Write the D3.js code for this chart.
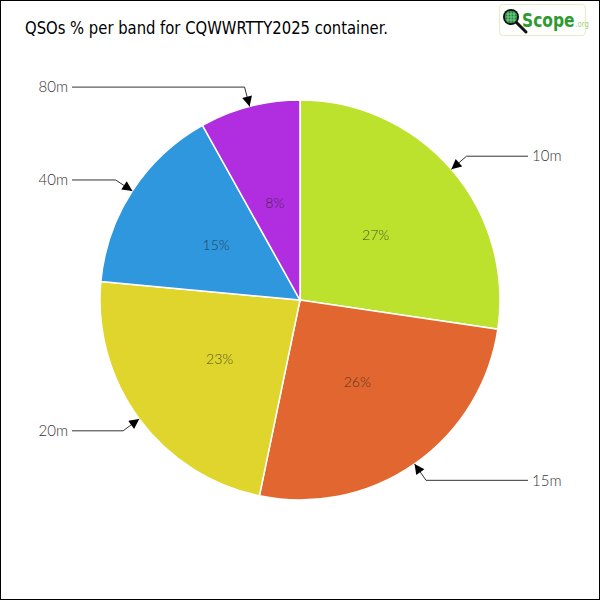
<!DOCTYPE html>
<html>
<head>
<meta charset="utf-8">
<script src="https://cdn.jsdelivr.net/npm/d3@7"></script>
<style>
  html, body { margin: 0; padding: 0; background: #fff; }
  svg { display: block; }
</style>
</head>
<body>
<svg id="chart" width="600" height="600"></svg>
<script>
// ---- data ----
const bands = ["10m", "15m", "20m", "40m", "80m"];
const shares = [27.3, 25.9, 23.2, 15.4, 8.1];
const colors = ["#bde22d", "#e2662f", "#e0d52c", "#2e97de", "#b02ee0"];
const titleText = "QSOs % per band for CQWWRTTY2025 container.";

const W = 600, H = 600;
const cx = 300, cy = 300, R = 200;
const svg = d3.select("#chart");

// frame
svg.append("rect").attr("x", 0.5).attr("y", 0.5).attr("width", W - 1).attr("height", H - 1)
  .attr("fill", "#fff").attr("stroke", "#000").attr("stroke-width", 1);

// title
svg.append("text").attr("x", 25).attr("y", 34)
  .attr("font-family", "'DejaVu Sans Condensed', 'DejaVu Sans', sans-serif")
  .attr("font-size", 17).attr("fill", "#000")
  .attr("textLength", 363).attr("lengthAdjust", "spacingAndGlyphs")
  .text(titleText);

// logo
const logo = svg.append("g");
logo.append("rect").attr("x", 499.5).attr("y", 4.5).attr("width", 86).attr("height", 31).attr("rx", 4)
  .attr("fill", "#fff").attr("stroke", "#e4efc4").attr("stroke-width", 1.2);
logo.append("line").attr("x1", 516).attr("y1", 22).attr("x2", 526).attr("y2", 32)
  .attr("stroke", "#111").attr("stroke-width", 3).attr("stroke-linecap", "round");
logo.append("circle").attr("cx", 511).attr("cy", 17).attr("r", 8).attr("fill", "#111");
logo.append("circle").attr("cx", 511).attr("cy", 17).attr("r", 6.2).attr("fill", "#1f8a3a");
[-3, 0, 3].forEach(d => {
  logo.append("line").attr("x1", 511 + d).attr("y1", 11.5).attr("x2", 511 + d).attr("y2", 22.5)
    .attr("stroke", "#8fd49a").attr("stroke-width", 0.8);
  logo.append("line").attr("x1", 505.5).attr("y1", 17 + d).attr("x2", 516.5).attr("y2", 17 + d)
    .attr("stroke", "#8fd49a").attr("stroke-width", 0.8);
});
const logoText = logo.append("text").attr("transform", "translate(522,27) scale(0.86,1)")
  .attr("font-family", "'Liberation Sans Narrow', 'DejaVu Sans Condensed', sans-serif")
  .attr("font-weight", "bold");
logoText.append("tspan").attr("font-size", 20).attr("fill", "#2f9a2f").text("Scope");
logoText.append("tspan").attr("font-size", 9).attr("font-weight", "normal")
  .attr("fill", "#9fd27a").attr("dx", 1).text(".org");

// pie
const pie = d3.pie().sort(null).value(d => d)(shares);
const arc = d3.arc().innerRadius(0).outerRadius(R);
const g = svg.append("g").attr("transform", `translate(${cx},${cy})`);

g.selectAll("path.slice").data(pie).enter().append("path")
  .attr("class", "slice")
  .attr("d", arc)
  .attr("fill", (d, i) => colors[i])
  .attr("stroke", "#fff").attr("stroke-width", 1.5);

// percent labels (at half radius)
g.selectAll("text.pct").data(pie).enter().append("text")
  .attr("class", "pct")
  .attr("transform", d => `translate(${arc.centroid(d)})`)
  .attr("text-anchor", "middle").attr("dy", "0.35em")
  .attr("font-family", "Lato, 'Open Sans', sans-serif").attr("font-weight", 300)
  .attr("font-size", 14).attr("fill", "#222").attr("fill-opacity", 0.75)
  .text((d, i) => Math.round(shares[i]) + "%");

// callouts
const defs = svg.append("defs");
defs.append("marker").attr("id", "arrow").attr("viewBox", "0 0 10 10")
  .attr("refX", 10).attr("refY", 5).attr("markerWidth", 11).attr("markerHeight", 10)
  .attr("markerUnits", "userSpaceOnUse").attr("orient", "auto")
  .append("path").attr("d", "M0,0 L10,5 L0,10 Z").attr("fill", "#000");

const polar = (a, r) => [Math.sin(a) * r, -Math.cos(a) * r];
pie.forEach((d, i) => {
  const mid = (d.startAngle + d.endAngle) / 2;
  const tip = polar(mid, R);
  const elbow = polar(mid, 220);
  const right = mid < Math.PI;
  const endX = right ? 528 - cx : 72 - cx;
  g.append("path")
    .attr("d", `M${endX},${elbow[1]} L${elbow[0]},${elbow[1]} L${tip[0]},${tip[1]}`)
    .attr("fill", "none").attr("stroke", "#333").attr("stroke-width", 1)
    .attr("marker-end", "url(#arrow)");
  g.append("text")
    .attr("x", right ? endX + 4 : endX - 4).attr("y", elbow[1]).attr("dy", "0.35em")
    .attr("text-anchor", right ? "start" : "end")
    .attr("font-family", "Lato, 'Open Sans', sans-serif").attr("font-weight", 300)
    .attr("font-size", 15).attr("fill", "#333")
    .text(bands[i]);
});
</script>
</body>
</html>
